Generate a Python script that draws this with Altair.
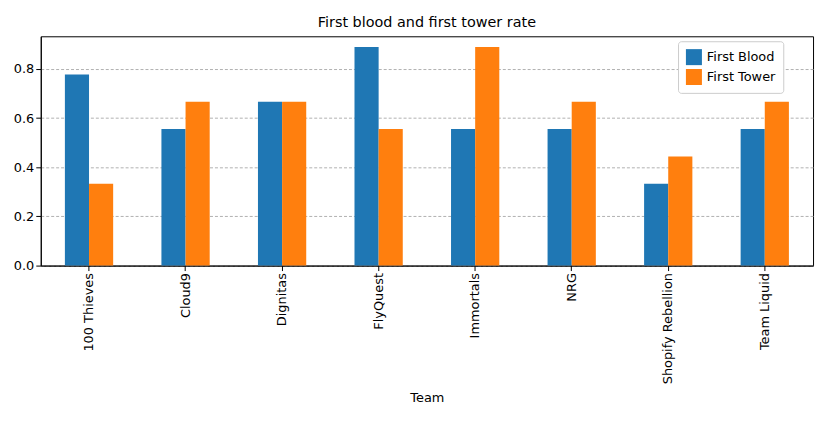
import altair as alt
import pandas as pd

teams = ["100 Thieves", "Cloud9", "Dignitas", "FlyQuest", "Immortals", "NRG",
         "Shopify Rebellion", "Team Liquid"]
first_blood = [0.778, 0.556, 0.667, 0.889, 0.556, 0.556, 0.333, 0.556]
first_tower = [0.333, 0.667, 0.667, 0.556, 0.889, 0.667, 0.444, 0.667]

rows = []
for t, b, w in zip(teams, first_blood, first_tower):
    rows.append({"Team": t, "series": "First Blood", "rate": b})
    rows.append({"Team": t, "series": "First Tower", "rate": w})
df = pd.DataFrame(rows)

font = "DejaVu Sans"
chart = alt.Chart(df).mark_bar().encode(
    x=alt.X("Team:N", sort=teams, title="Team",
            scale=alt.Scale(paddingInner=0.5, paddingOuter=0.25),
            axis=alt.Axis(labelAngle=-90, labelColor="black", tickColor="black",
                          domainColor="black", titleFontWeight="normal",
                          titleFontSize=13, labelFontSize=13, grid=False,
                          titlePadding=8)),
    xOffset=alt.XOffset("series:N"),
    y=alt.Y("rate:Q", title=None,
            scale=alt.Scale(domain=[0, 0.933], nice=False),
            axis=alt.Axis(values=[0, 0.2, 0.4, 0.6, 0.8], format=".1f",
                          gridDash=[3, 2], gridColor="#b0b0b0",
                          labelColor="black", tickColor="black",
                          domainColor="black", labelFontSize=13)),
    color=alt.Color("series:N", title=None,
                    scale=alt.Scale(domain=["First Blood", "First Tower"],
                                    range=["#1f77b4", "#ff7f0e"]),
                    legend=alt.Legend(orient="none", legendX=642, legendY=5,
                                      symbolType="square", symbolSize=260,
                                      labelFontSize=13, strokeColor="#cccccc",
                                      fillColor="white", padding=7,
                                      cornerRadius=3)),
).properties(
    width=778, height=231,
    title=alt.TitleParams("First blood and first tower rate", fontSize=14.5,
                          fontWeight="normal", font=font, offset=6),
).configure(font=font).configure_view(stroke="black")

chart.save("out.html", embed_options={"renderer": "svg", "actions": False})
